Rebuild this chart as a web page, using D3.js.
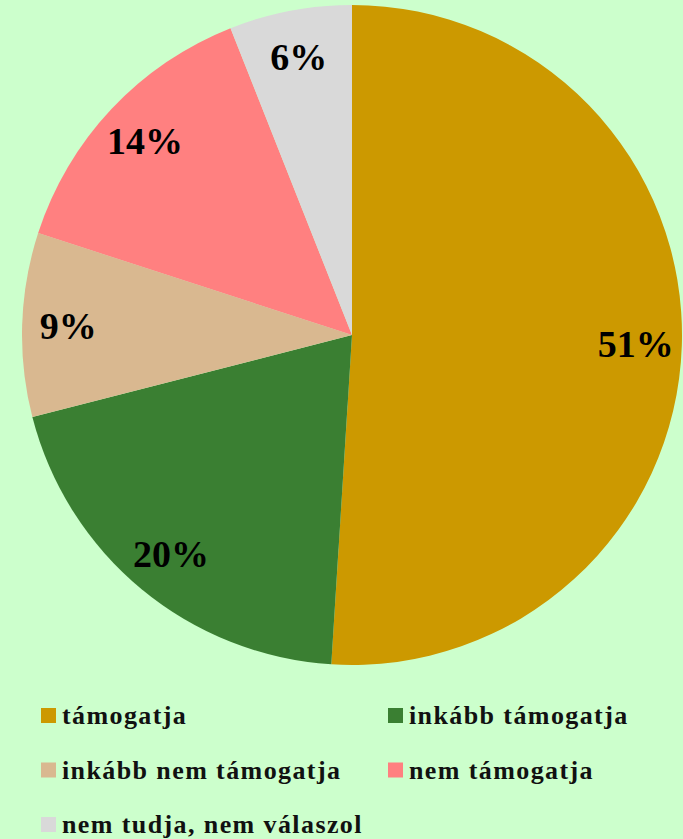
<!DOCTYPE html>
<html>
<head>
<meta charset="utf-8">
<script src="https://cdn.jsdelivr.net/npm/d3@7/dist/d3.min.js"></script>
<style>
  html, body { margin: 0; padding: 0; background: #ccffcc; }
  svg { display: block; }
</style>
</head>
<body>
<svg id="chart" width="683" height="839"></svg>
<script>
// Survey answers and their shares (%)
const categories = ["támogatja", "inkább támogatja", "inkább nem támogatja", "nem támogatja", "nem tudja, nem válaszol"];
const values = [51, 20, 9, 14, 6];
const colors = ["#cc9900", "#3a7f32", "#d9b890", "#ff8080", "#d9d9d9"];

const width = 683, height = 839;
const cx = 352, cy = 335, radius = 330;

const svg = d3.select("#chart");
svg.append("rect").attr("width", width).attr("height", height).attr("fill", "#ccffcc");

const data = categories.map((c, i) => ({ name: c, value: values[i], color: colors[i] }));

const pie = d3.pie().value(d => d.value).sort(null);
const arc = d3.arc().innerRadius(0).outerRadius(radius);
const labelArc = d3.arc().innerRadius(radius * 0.86).outerRadius(radius * 0.86);

const g = svg.append("g").attr("transform", `translate(${cx},${cy})`);
const arcs = pie(data);

g.selectAll("path.slice")
  .data(arcs)
  .join("path")
  .attr("class", "slice")
  .attr("d", arc)
  .attr("fill", d => d.data.color);

g.selectAll("text.pct")
  .data(arcs)
  .join("text")
  .attr("class", "pct")
  .attr("transform", d => `translate(${labelArc.centroid(d)})`)
  .attr("text-anchor", "middle")
  .attr("dy", "0.35em")
  .style("font-family", "'Liberation Serif', 'DejaVu Serif', serif")
  .style("font-weight", "bold")
  .style("font-size", "38px")
  .attr("fill", "#000")
  .text(d => d.data.value + "%");

// Legend: two columns, three rows
const legendX = [41, 388];
const legendBase = 724, rowGap = 54.5, sw = 15;

const legend = svg.append("g").selectAll("g")
  .data(data)
  .join("g")
  .attr("transform", (d, i) => `translate(${legendX[i % 2]},${legendBase + Math.floor(i / 2) * rowGap})`);

legend.append("rect")
  .attr("x", 0).attr("y", -sw - 1)
  .attr("width", sw).attr("height", sw)
  .attr("fill", d => d.color);

legend.append("text")
  .attr("x", sw + 6).attr("y", 0)
  .style("font-family", "'Liberation Serif', 'DejaVu Serif', serif")
  .style("font-weight", "bold")
  .style("font-size", "26px")
  .style("letter-spacing", "1.4px")
  .attr("fill", "#111")
  .text(d => d.name);
</script>
</body>
</html>
